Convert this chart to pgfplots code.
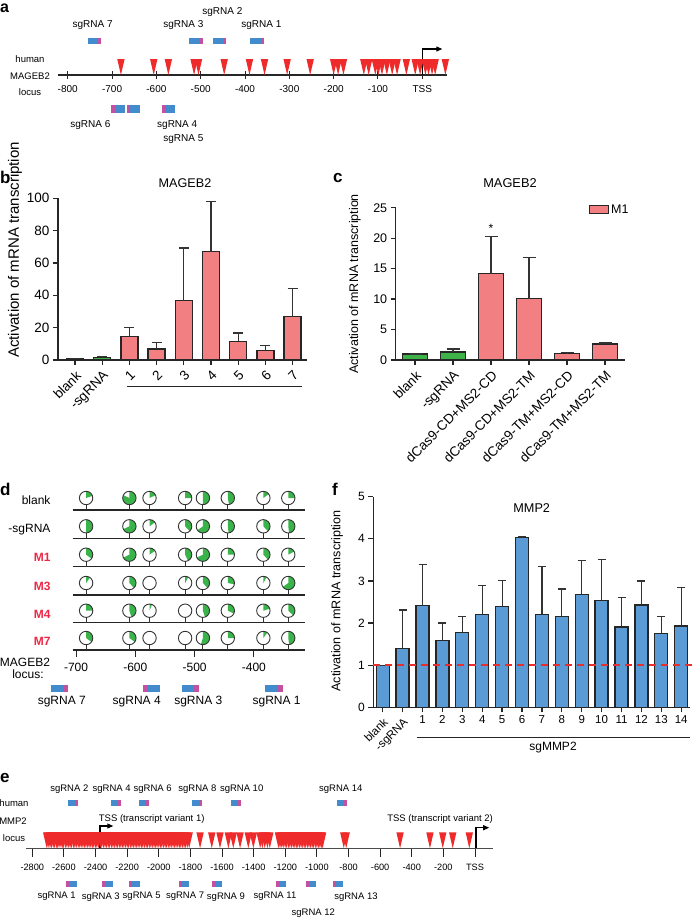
\documentclass[border=0pt]{standalone}
\usepackage{fontspec}
\setmainfont{Liberation Sans}
\usepackage{pgfplots}
\pgfplotsset{compat=1.18}
\usetikzlibrary{arrows.meta}

\definecolor{barred}{RGB}{242,128,131}
\definecolor{bargreen}{RGB}{60,178,72}
\definecolor{barblue}{RGB}{91,155,213}
\definecolor{trired}{RGB}{238,42,42}
\definecolor{sgblue}{RGB}{66,140,205}
\definecolor{sgmag}{RGB}{196,80,160}
\definecolor{mred}{RGB}{236,40,70}
\definecolor{piegreen}{RGB}{58,180,74}
\definecolor{dashred}{RGB}{235,45,45}

\newcommand{\fs}[1]{\fontsize{#1}{#1}\selectfont}

% red CpG triangle, tip on the locus line
\pgfdeclareplotmark{tridown}{%
  \pgfpathmoveto{\pgfqpoint{0pt}{0pt}}%
  \pgfpathlineto{\pgfqpoint{-3.7pt}{16pt}}%
  \pgfpathlineto{\pgfqpoint{3.7pt}{16pt}}%
  \pgfpathclose\pgfusepathqfill}

% methylation pie, green share in \pfrac
\pgfdeclareplotmark{pie}{%
  \pgfsetfillcolor{white}%
  \pgfpathcircle{\pgfpointorigin}{6.7pt}\pgfusepath{fill}%
  \ifdim\pfrac pt>0.001pt
    \pgfmathsetmacro\pang{90-360*\pfrac}%
    \pgfsetfillcolor{piegreen}%
    \pgfpathmoveto{\pgfpointorigin}\pgfpathlineto{\pgfqpoint{0pt}{6.7pt}}%
    \pgfpatharc{90}{\pang}{6.7pt}\pgfpathclose\pgfusepath{fill}%
  \fi
  \pgfsetstrokecolor{black!80}\pgfsetlinewidth{0.9pt}%
  \pgfpathcircle{\pgfpointorigin}{6.7pt}\pgfusepath{stroke}%
  \pgfpathmoveto{\pgfqpoint{0pt}{-6.7pt}}\pgfpathlineto{\pgfqpoint{0pt}{-12pt}}\pgfusepath{stroke}}

% sgRNA box: x1 split x2 y1 y2 leftcolour rightcolour
\newcommand{\sgbox}[7]{%
  \addplot[fill=#6, draw=none, mark=none, forget plot] coordinates {(#1,#4) (#2,#4) (#2,#5) (#1,#5)};%
  \addplot[fill=#7, draw=none, mark=none, forget plot] coordinates {(#2,#4) (#3,#4) (#3,#5) (#2,#5)};%
}

\pgfplotsset{
  locus/.style={scale only axis, anchor=south west, axis x line*=bottom, axis y line=none,
    clip=false, axis line style={-, line width=1.3pt, black!85},
    tick style={black!85, line width=1pt}},
  barax/.style={scale only axis, anchor=south west, axis x line*=bottom, axis y line*=left,
    clip=false, axis line style={-, line width=1.4pt, black!85},
    tick style={black!85, line width=1.3pt}, tick align=outside, major tick length=5pt,
    /pgf/number format/assume math mode=true},
  ebar/.style={error bars/.cd, y dir=plus, y explicit,
    error bar style={line width=1.2pt, black!80},
    error mark options={rotate=90, mark size=#1, line width=1.2pt, black!80}},
}

\begin{document}
\begin{tikzpicture}
\path[use as bounding box] (0pt,0pt) rectangle (697pt,-921pt);

% ---------------- panel a
\node[anchor=base west, inner sep=0pt, font=\bfseries\fs{16}] at (0pt,-12pt) {a};
\node[font=\fs{9.5}] at (30pt,-59pt) {human};
\node[font=\fs{9.5}] at (30pt,-76pt) {MAGEB2};
\node[font=\fs{9.5}] at (30pt,-92pt) {locus};
\begin{axis}[locus, at={(58pt,-75pt)}, width=388.7pt, height=75pt,
  xmin=-822, xmax=55, ymin=0, ymax=75,
  xtick={-800,-700,-600,-500,-400,-300,-200,-100,0},
  xticklabels={-800,-700,-600,-500,-400,-300,-200,-100,TSS},
  tick align=center, major tick length=8pt,
  xticklabel style={font=\fs{10}, yshift=-3pt}]
\addplot[only marks, mark=tridown, color=trired] coordinates {
  (-680,0) (-606,0) (-573,0) (-515,0) (-505,0) (-447,0) (-390,0) (-356,0)
  (-305,0) (-253,0) (-200,0) (-190,0) (-178,0) (-132,0) (-121,0) (-106,0)
  (-99,0) (-91,0) (-80,0) (-68,0) (-57,0) (-36,0) (-16,0) (-5,0) (7,0)
  (14,0) (22,0) (29,0) (52,0)};
\draw[line width=1.2pt, -{Triangle[length=6pt,width=5pt]}] (axis cs:0,0) -- (axis cs:0,26) -- (axis cs:45,26);
\sgbox{-755}{-732}{-724}{31}{37}{sgblue}{sgmag}
\sgbox{-526}{-503}{-495}{31}{37}{sgblue}{sgmag}
\sgbox{-473}{-450}{-442}{31}{37}{sgblue}{sgmag}
\sgbox{-388}{-365}{-357}{31}{37}{sgblue}{sgmag}
\sgbox{-702}{-692}{-670}{-30}{-38}{sgmag}{sgblue}
\sgbox{-666}{-659}{-636}{-30}{-38}{sgmag}{sgblue}
\sgbox{-587}{-578}{-557}{-30}{-38}{sgmag}{sgblue}
\node[font=\fs{10}] at (axis cs:-744,50) {sgRNA 7};
\node[font=\fs{10}] at (axis cs:-539,50) {sgRNA 3};
\node[font=\fs{10}] at (axis cs:-451,63) {sgRNA 2};
\node[font=\fs{10}] at (axis cs:-363,50) {sgRNA 1};
\node[font=\fs{10}] at (axis cs:-749,-50) {sgRNA 6};
\node[font=\fs{10}] at (axis cs:-553,-50) {sgRNA 4};
\node[font=\fs{10}] at (axis cs:-539,-64) {sgRNA 5};
\end{axis}

% ---------------- panel b
\node[anchor=base west, inner sep=0pt, font=\bfseries\fs{17}] at (0pt,-183pt) {b};
\node[font=\fs{12.6}] at (185pt,-183pt) {MAGEB2};
\node[rotate=90, font=\fs{15}] at (15pt,-250pt) {Activation of mRNA transcription};
\begin{axis}[barax, at={(58pt,-360pt)}, width=249pt, height=161.7pt,
  xmin=-0.625, xmax=8.53, ymin=0, ymax=100,
  ytick={0,20,40,60,80,100}, xtick={0,1,2,3,4,5,6,7,8},
  xticklabels={blank,-sgRNA,1,2,3,4,5,6,7},
  xticklabel style={rotate=45, anchor=north east, font=\fs{13.5}},
  yticklabel style={font=\fs{13.5}}]
\addplot[ybar, bar width=17pt, bar shift=0pt, fill=bargreen, draw=black!85, line width=1.3pt, ebar=5pt]
  coordinates {(0,0.9) +- (0,0.1) (1,1.4) +- (0,0.6)};
\addplot[ybar, bar width=17pt, bar shift=0pt, fill=barred, draw=black!85, line width=1.3pt, ebar=5pt]
  coordinates {(2,14.4) +- (0,5.8) (3,6.8) +- (0,4.1) (4,36.7) +- (0,32.6) (5,67) +- (0,31.1)
               (6,11.5) +- (0,5.2) (7,6) +- (0,3.1) (8,26.8) +- (0,17.3)};
\end{axis}
\draw[line width=1pt, black!85] (126.7pt,-386.7pt) -- (301.7pt,-386.7pt);

% ---------------- panel c
\node[anchor=base west, inner sep=0pt, font=\bfseries\fs{17}] at (333pt,-182pt) {c};
\node[font=\fs{12.8}] at (510pt,-183pt) {MAGEB2};
\node[rotate=90, font=\fs{12.5}] at (355pt,-284pt) {Activation of mRNA transcription};
\begin{axis}[barax, at={(395.7pt,-360pt)}, width=229.3pt, height=152.3pt,
  xmin=-0.508, xmax=5.526, ymin=0, ymax=25,
  ytick={0,5,10,15,20,25}, xtick={0,1,2,3,4,5},
  xticklabels={blank,-sgRNA,dCas9-CD+MS2-CD,dCas9-CD+MS2-TM,dCas9-TM+MS2-CD,dCas9-TM+MS2-TM},
  xticklabel style={rotate=45, anchor=north east, font=\fs{13.5}},
  yticklabel style={font=\fs{12.5}},
  legend style={at={(0.83,0.985)}, anchor=west, draw=none, fill=none, font=\fs{12.5}}]
\addplot[ybar, bar width=25pt, bar shift=0pt, fill=bargreen, draw=black!85, line width=1.3pt, forget plot, ebar=6.5pt]
  coordinates {(0,0.98) +- (0,0) (1,1.31) +- (0,0.5)};
\addplot[ybar, bar width=25pt, bar shift=0pt, fill=barred, draw=black!85, line width=1.3pt,
  legend image code/.code={\draw[fill=barred, draw=black!85, line width=1pt] (0pt,-4pt) rectangle (19pt,4pt);},
  ebar=6.5pt]
  coordinates {(2,14.17) +- (0,6.07) (3,10.07) +- (0,6.73) (4,1.09) +- (0,0.1) (5,2.63) +- (0,0.16)};
\addlegendentry{M1}
\node[font=\fs{12}] at (axis cs:2,21.6) {*};
\end{axis}

% ---------------- panel d
\node[anchor=base west, inner sep=0pt, font=\bfseries\fs{17}] at (0pt,-495pt) {d};
\node[anchor=east, font=\fs{12}] at (54pt,-500pt) {blank};
\node[anchor=east, font=\fs{12}] at (54pt,-529.3pt) {-sgRNA};
\node[anchor=east, font=\bfseries\fs{12}, text=mred] at (54pt,-557.7pt) {M1};
\node[anchor=east, font=\bfseries\fs{12}, text=mred] at (54pt,-586pt) {M3};
\node[anchor=east, font=\bfseries\fs{12}, text=mred] at (54pt,-614pt) {M4};
\node[anchor=east, font=\bfseries\fs{12}, text=mred] at (54pt,-641.7pt) {M7};
\node[font=\fs{12}] at (25pt,-662.7pt) {MAGEB2};
\node[font=\fs{12}] at (28pt,-674pt) {locus:};
\begin{axis}[locus, at={(72.7pt,-650pt)}, width=232.3pt, height=140pt,
  xmin=-705.6, xmax=-313.8, ymin=0, ymax=140,
  xtick={-700,-600,-500,-400}, xticklabels={-700,-600,-500,-400},
  tick align=outside, major tick length=7pt,
  xticklabel style={font=\fs{12}, yshift=-3pt}]
\addplot[line width=1.3pt, black!85, mark=none] coordinates {(-705.6,27.3) (-313.8,27.3)};
\addplot[line width=1.3pt, black!85, mark=none] coordinates {(-705.6,55) (-313.8,55)};
\addplot[line width=1.3pt, black!85, mark=none] coordinates {(-705.6,83.3) (-313.8,83.3)};
\addplot[line width=1.3pt, black!85, mark=none] coordinates {(-705.6,111.7) (-313.8,111.7)};
\addplot[line width=1.3pt, black!85, mark=none] coordinates {(-705.6,140) (-313.8,140)};
\addplot[only marks, mark=pie, visualization depends on={value \thisrow{f}\as\pfrac}] table {
x y f
-683 152 0.20
-610 152 0.82
-576 152 0.18
-516 152 0.25
-486 152 0.50
-444 152 0.47
-384 152 0.15
-342 152 0.25
-683 123.7 0.50
-610 123.7 0.68
-576 123.7 0.15
-516 123.7 0.38
-486 123.7 0.65
-444 123.7 0.48
-384 123.7 0.38
-342 123.7 0.48
-683 95.3 0.35
-610 95.3 0.68
-576 95.3 0.15
-516 95.3 0.43
-486 95.3 0.68
-444 95.3 0.25
-384 95.3 0.38
-342 95.3 0.17
-683 67 0.10
-610 67 0.38
-576 67 0
-516 67 0.08
-486 67 0.38
-444 67 0.28
-384 67 0.08
-342 67 0.65
-683 39.3 0.25
-610 39.3 0.45
-576 39.3 0.06
-516 39.3 0
-486 39.3 0.45
-444 39.3 0.32
-384 39.3 0.20
-342 39.3 0.37
-683 12 0.35
-610 12 0.35
-576 12 0
-516 12 0
-486 12 0.55
-444 12 0.25
-384 12 0.10
-342 12 0.48
};
\sgbox{-742.7}{-720.2}{-713}{-35}{-41.7}{sgblue}{sgmag}
\sgbox{-587.5}{-580.3}{-558.4}{-35}{-41.7}{sgmag}{sgblue}
\sgbox{-521.8}{-501}{-492.1}{-35}{-41.7}{sgblue}{sgmag}
\sgbox{-381.3}{-359.3}{-351.4}{-35}{-41.7}{sgblue}{sgmag}
\node[font=\fs{12}] at (axis cs:-724,-51.7) {sgRNA 7};
\node[font=\fs{12}] at (axis cs:-597.6,-51.7) {sgRNA 4};
\node[font=\fs{12}] at (axis cs:-493.8,-51.7) {sgRNA 3};
\node[font=\fs{12}] at (axis cs:-361.6,-51.7) {sgRNA 1};
\end{axis}

% ---------------- panel f
\node[anchor=base west, inner sep=0pt, font=\bfseries\fs{17}] at (332pt,-495pt) {f};
\node[font=\fs{12.7}] at (531.7pt,-508pt) {MMP2};
\node[rotate=90, font=\fs{12.6}] at (337pt,-601pt) {Activation of mRNA transcription};
\begin{axis}[barax, at={(373.3pt,-707.3pt)}, width=316.7pt, height=210.6pt,
  xmin=-0.472, xmax=15.44, ymin=0, ymax=5,
  ytick={0,1,2,3,4,5},
  xtick={2,3,4,5,6,7,8,9,10,11,12,13,14,15},
  xticklabels={1,2,3,4,5,6,7,8,9,10,11,12,13,14},
  xticklabel style={font=\fs{11.5}},
  extra x ticks={0,1},
  extra x tick labels={blank,-sgRNA},
  extra x tick style={tick label style={rotate=45, anchor=north east}},
  yticklabel style={font=\fs{12}}]
\addplot[ybar, bar width=13pt, bar shift=0pt, fill=barblue, draw=black!85, line width=1.3pt, ebar=4pt]
  coordinates {(0,1.0) +- (0,0) (1,1.40) +- (0,0.91) (2,2.41) +- (0,0.98) (3,1.58) +- (0,0.42)
    (4,1.77) +- (0,0.39) (5,2.21) +- (0,0.69) (6,2.40) +- (0,0.61) (7,4.03) +- (0,0.02)
    (8,2.21) +- (0,1.13) (9,2.16) +- (0,0.65) (10,2.68) +- (0,0.8) (11,2.54) +- (0,0.97)
    (12,1.91) +- (0,0.69) (13,2.43) +- (0,0.57) (14,1.76) +- (0,0.4) (15,1.93) +- (0,0.91)};
\addplot[dashred, line width=1.8pt, dash pattern=on 7pt off 5pt, mark=none] coordinates {(-0.47,1) (15.79,1)};
\end{axis}
\draw[line width=1pt, black!85] (416.7pt,-737.3pt) -- (690pt,-737.3pt);
\node[font=\fs{12}] at (553pt,-748pt) {sgMMP2};

% ---------------- panel e
\node[anchor=base west, inner sep=0pt, font=\bfseries\fs{17}] at (0pt,-782pt) {e};
\node[font=\fs{9.5}] at (14pt,-803.3pt) {human};
\node[font=\fs{9.5}] at (13pt,-821pt) {MMP2};
\node[font=\fs{9.5}] at (14pt,-837.7pt) {locus};
\begin{axis}[locus, at={(26pt,-848.3pt)}, width=467.3pt, height=60pt,
  xmin=-2840, xmax=115.7, ymin=0, ymax=60,
  axis line style={-, line width=1.6pt, black!70},
  xtick={-2800,-2600,-2400,-2200,-2000,-1800,-1600,-1400,-1200,-1000,-800,-600,-400,-200,0},
  xticklabels={-2800,-2600,-2400,-2200,-2000,-1800,-1600,-1400,-1200,-1000,-800,-600,-400,-200,TSS},
  tick align=outside, major tick length=8.4pt,
  xticklabel style={font=\fs{9.2}, yshift=-4pt}]
\addplot[only marks, mark=tridown, color=trired] coordinates {
  (-2709,0) (-2700,0) (-2688,0) (-2679,0) (-2668,0) (-2660,0) (-2648,0) (-2640,0) (-2631,0)
  (-2619,0) (-2610,0) (-2602,0) (-2590,0) (-2581,0) (-2570,0) (-2561,0) (-2552,0) (-2540,0)
  (-2531,0) (-2522,0) (-2510,0) (-2500,0) (-2491,0) (-2480,0) (-2470,0) (-2461,0) (-2450,0)
  (-2441,0) (-2430,0) (-2420,0) (-2411,0) (-2400,0) (-2392,0) (-2381,0) (-2370,0) (-2361,0)
  (-2350,0) (-2340,0) (-2331,0) (-2320,0) (-2311,0) (-2300,0) (-2290,0) (-2281,0) (-2270,0)
  (-2261,0) (-2250,0) (-2240,0) (-2230,0) (-2221,0) (-2210,0) (-2200,0) (-2191,0) (-2180,0)
  (-2170,0) (-2161,0) (-2150,0) (-2140,0) (-2131,0) (-2120,0) (-2110,0) (-2101,0) (-2090,0)
  (-2080,0) (-2071,0) (-2060,0) (-2050,0) (-2041,0) (-2030,0) (-2020,0) (-2011,0) (-2000,0)
  (-1990,0) (-1981,0) (-1970,0) (-1960,0) (-1951,0) (-1940,0) (-1930,0) (-1921,0) (-1910,0)
  (-1900,0) (-1891,0) (-1880,0) (-1870,0) (-1861,0) (-1850,0) (-1840,0) (-1831,0) (-1820,0)
  (-1808,0)
  (-1739,0) (-1665,0) (-1613,0) (-1560,0) (-1529,0) (-1486,0) (-1434,0) (-1402,0)
  (-1359,0) (-1345,0) (-1330,0) (-1313,0) (-1298,0)
  (-1243,0) (-1233,0) (-1222,0) (-1213,0) (-1201,0) (-1192,0) (-1180,0) (-1171,0) (-1160,0)
  (-1150,0) (-1140,0) (-1130,0) (-1121,0) (-1110,0) (-1100,0) (-1090,0) (-1080,0) (-1071,0)
  (-1060,0) (-1050,0) (-1040,0) (-1030,0) (-1021,0) (-1010,0) (-1000,0) (-990,0) (-981,0)
  (-972,0) (-964,0)
  (-830,0) (-815,0) (-474,0) (-285,0) (-204,0) (-141,0) (-36,0)};
\draw[line width=1.1pt, -{Triangle[length=6pt,width=5pt]}] (axis cs:-2372,0) -- (axis cs:-2372,22.3) -- (axis cs:-2288,22.3);
\draw[line width=1.1pt, -{Triangle[length=6pt,width=5pt]}] (axis cs:6,0) -- (axis cs:6,20.6) -- (axis cs:90,20.6);
\node[font=\fs{9.5}] at (axis cs:-2045,29) {TSS (transcript variant 1)};
\node[font=\fs{9.5}] at (axis cs:-221,29) {TSS (transcript variant 2)};
\sgbox{-2576}{-2532}{-2513}{42.3}{48.3}{sgblue}{sgmag}
\sgbox{-2302}{-2258}{-2239}{42.3}{48.3}{sgblue}{sgmag}
\sgbox{-2125}{-2081}{-2062}{42.3}{48.3}{sgblue}{sgmag}
\sgbox{-1788}{-1744}{-1725}{42.3}{48.3}{sgblue}{sgmag}
\sgbox{-1543}{-1499}{-1480}{42.3}{48.3}{sgblue}{sgmag}
\sgbox{-875}{-830}{-812}{42.3}{48.3}{sgblue}{sgmag}
\sgbox{-2587}{-2568}{-2519}{-32.4}{-38.4}{sgmag}{sgblue}
\sgbox{-2357}{-2338}{-2292}{-32.4}{-38.4}{sgmag}{sgblue}
\sgbox{-2187}{-2168}{-2119}{-32.4}{-38.4}{sgmag}{sgblue}
\sgbox{-1870}{-1851}{-1807}{-32.4}{-38.4}{sgmag}{sgblue}
\sgbox{-1665}{-1646}{-1602}{-32.4}{-38.4}{sgmag}{sgblue}
\sgbox{-1261}{-1242}{-1197}{-32.4}{-38.4}{sgmag}{sgblue}
\sgbox{-1069}{-1050}{-1006}{-32.4}{-38.4}{sgmag}{sgblue}
\sgbox{-896}{-877}{-833}{-32.4}{-38.4}{sgmag}{sgblue}
\node[font=\fs{9.5}] at (axis cs:-2566,59.3) {sgRNA 2};
\node[font=\fs{9.5}] at (axis cs:-2298,59.3) {sgRNA 4};
\node[font=\fs{9.5}] at (axis cs:-2039,59.3) {sgRNA 6};
\node[font=\fs{9.5}] at (axis cs:-1756,59.3) {sgRNA 8};
\node[font=\fs{9.5}] at (axis cs:-1476,59.3) {sgRNA 10};
\node[font=\fs{9.5}] at (axis cs:-849,59.3) {sgRNA 14};
\node[font=\fs{9.5}] at (axis cs:-2646,-48.4) {sgRNA 1};
\node[font=\fs{9.5}] at (axis cs:-2367,-48.4) {sgRNA 3};
\node[font=\fs{9.5}] at (axis cs:-2108,-48.4) {sgRNA 5};
\node[font=\fs{9.5}] at (axis cs:-1834,-48.4) {sgRNA 7};
\node[font=\fs{9.5}] at (axis cs:-1575,-48.4) {sgRNA 9};
\node[font=\fs{9.5}] at (axis cs:-1265,-48.4) {sgRNA 11};
\node[font=\fs{9.5}] at (axis cs:-753,-48.4) {sgRNA 13};
\node[font=\fs{9.5}] at (axis cs:-1023,-65) {sgRNA 12};
\end{axis}
\end{tikzpicture}
\end{document}
